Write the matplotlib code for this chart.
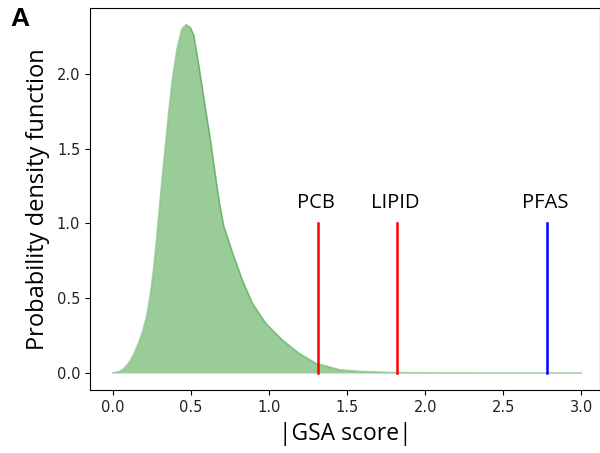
import matplotlib
matplotlib.use("Agg")
import matplotlib.pyplot as plt

# density curve
gsa_x = [0.0, 0.04, 0.07, 0.099, 0.13, 0.163, 0.19, 0.215, 0.238, 0.26, 0.281, 0.30, 0.318,
         0.339, 0.356, 0.378, 0.41, 0.44, 0.468, 0.495, 0.517, 0.549, 0.582, 0.625, 0.678,
         0.71, 0.764, 0.829, 0.893, 0.979, 1.086, 1.193, 1.30, 1.45, 1.57, 1.78, 2.0, 2.5, 3.0]
pdf_y = [0.0, 0.01, 0.03, 0.065, 0.12, 0.20, 0.28, 0.38, 0.52, 0.70, 0.92, 1.14, 1.34,
         1.56, 1.74, 1.95, 2.17, 2.30, 2.33, 2.31, 2.26, 2.06, 1.84, 1.55, 1.16,
         0.98, 0.81, 0.62, 0.466, 0.332, 0.22, 0.131, 0.065, 0.022, 0.011, 0.003, 0.001, 0.0, 0.0]

markers = ["PCB", "LIPID", "PFAS"]
marker_x = [1.31, 1.82, 2.78]
marker_colors = ["red", "red", "blue"]
marker_height = 1.0

fig = plt.figure(figsize=(6.0, 4.53), dpi=100)
ax = fig.add_axes([0.15, 0.139, 0.85, 0.843])

ax.fill_between(gsa_x, pdf_y, color="green", alpha=0.4, linewidth=0)
ax.plot(gsa_x, pdf_y, color="green", alpha=0.35, linewidth=1.2)

lab_font = ["Open Sans", "DejaVu Sans"]
for name, xv, c in zip(markers, marker_x, marker_colors):
    ax.plot([xv, xv], [0, marker_height], color=c, linewidth=1.8)
    ax.text(xv - 0.01, marker_height + 0.07, name, ha="center", va="bottom",
            fontsize=14.5, family=lab_font)

ax.set_xlim(-0.148, 3.12)
ax.set_ylim(-0.114, 2.44)
ax.set_xticks([0.0, 0.5, 1.0, 1.5, 2.0, 2.5, 3.0])
ax.set_yticks([0.0, 0.5, 1.0, 1.5, 2.0])
ax.tick_params(labelsize=10.5, labelcolor="#222222")
ax.set_xlabel("|GSA score|", fontsize=16.5, family=lab_font, labelpad=5)
ax.set_ylabel("Probability density function", fontsize=17, family=lab_font, labelpad=5)

fig.text(0.018, 0.985, "A", fontsize=19, fontweight="bold", family="Liberation Sans",
         ha="left", va="top")

fig.savefig("out.png", dpi=100)
